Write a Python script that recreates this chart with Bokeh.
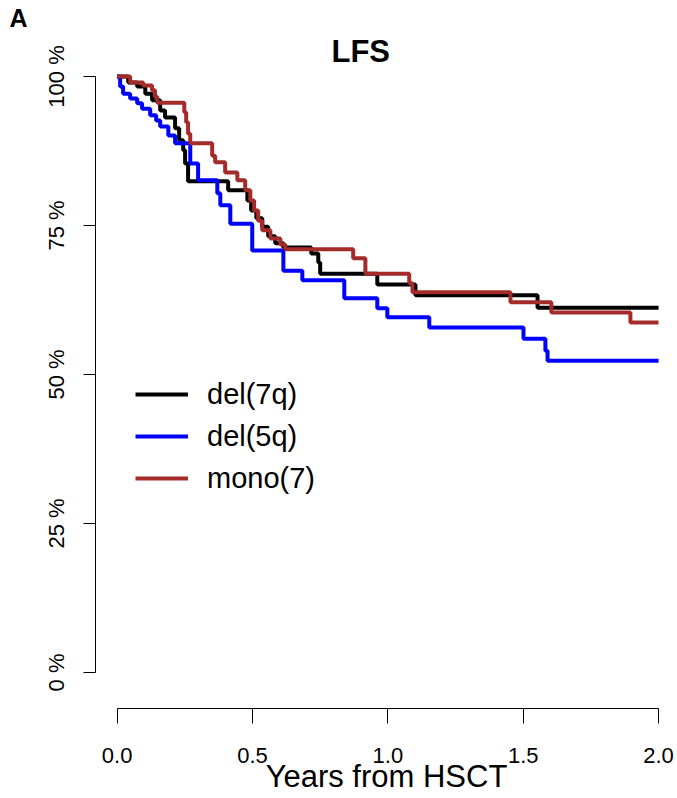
from bokeh.plotting import figure
from bokeh.models import Legend, LegendItem, Title, FixedTicker, Range1d
from bokeh.embed import file_html
from bokeh.resources import INLINE

# ---- data ----
del7q_t = [0.0, 0.041, 0.074, 0.104, 0.129, 0.159, 0.177, 0.214, 0.229, 0.244, 0.251, 0.262,
           0.410, 0.481, 0.495, 0.514, 0.536, 0.558, 0.584, 0.614, 0.717, 0.743, 0.750,
           0.961, 1.102, 1.553, 2.0]
del7q_s = [100.0, 99.0, 98.3, 97.1, 96.0, 94.3, 93.1, 91.3, 89.3, 87.6, 85.4, 82.4,
           80.9, 79.2, 77.5, 76.2, 74.8, 73.2, 72.0, 71.3, 70.3, 68.8, 66.9,
           65.1, 63.3, 61.2, 61.2]

del5q_t = [0.0, 0.011, 0.022, 0.048, 0.074, 0.092, 0.122, 0.144, 0.159, 0.189, 0.214, 0.270,
           0.299, 0.370, 0.381, 0.418, 0.499, 0.614, 0.684, 0.839, 0.961, 0.998, 1.153,
           1.501, 1.582, 1.590, 2.0]
del5q_s = [100.0, 98.3, 97.1, 96.3, 95.5, 94.6, 93.5, 92.6, 91.6, 90.1, 88.8, 85.4,
           82.6, 80.4, 78.4, 75.3, 70.8, 67.4, 65.8, 62.8, 61.1, 59.6, 57.9,
           56.0, 54.0, 52.3, 52.3]

mono7_t = [0.0, 0.048, 0.096, 0.129, 0.140, 0.148, 0.248, 0.255, 0.262, 0.270, 0.351, 0.362,
           0.399, 0.444, 0.473, 0.492, 0.506, 0.521, 0.536, 0.566, 0.603, 0.621, 0.872,
           0.917, 1.079, 1.091, 1.453, 1.604, 1.896, 2.0]
mono7_s = [100.0, 99.0, 98.5, 97.7, 96.6, 95.6, 94.0, 92.3, 90.4, 88.8, 86.7, 85.6,
           83.9, 82.6, 80.9, 79.2, 77.5, 75.8, 74.2, 72.8, 71.8, 71.0, 69.5,
           66.9, 65.3, 63.8, 62.1, 60.4, 58.7, 58.7]

x_ticks = [0.0, 0.5, 1.0, 1.5, 2.0]
x_tick_labels = ["0.0", "0.5", "1.0", "1.5", "2.0"]
y_ticks = [0, 25, 50, 75, 100]
y_tick_labels = ["0 %", "25 %", "50 %", "75 %", "100 %"]

series_names = ["del(7q)", "del(5q)", "mono(7)"]
series_colors = ["#000000", "#0000FF", "#A52A2A"]

FONT = "Liberation Sans"

p = figure(width=677, height=798, output_backend="svg", toolbar_location=None,
           x_range=Range1d(-0.08, 2.07), y_range=Range1d(-6.04, 101.0),
           min_border_left=95, min_border_right=0, min_border_top=70, min_border_bottom=90)
p.outline_line_color = None
p.xgrid.visible = False
p.ygrid.visible = False
p.background_fill_color = "white"
p.border_fill_color = "white"

renderers = []
for t, s, c in zip([del7q_t, del5q_t, mono7_t], [del7q_s, del5q_s, mono7_s], series_colors):
    r = p.step(t, s, mode="after", line_color=c, line_width=4)
    renderers.append(r)

# x axis
xa = p.xaxis[0]
xa.bounds = (0, 2)
xa.ticker = FixedTicker(ticks=x_ticks)
xa.major_label_overrides = {t: l for t, l in zip(x_ticks, x_tick_labels)}
xa.minor_tick_line_color = None
xa.major_tick_in = 0
xa.major_tick_out = 15
xa.major_label_text_font = FONT
xa.major_label_text_font_size = "22px"
xa.major_label_text_color = "black"
xa.major_label_standoff = 24
xa.axis_label = "Years from HSCT"
xa.axis_label_text_font = FONT
xa.axis_label_text_font_size = "31px"
xa.axis_label_text_font_style = "normal"
xa.axis_label_text_color = "black"
xa.axis_label_standoff = -7
xa.axis_line_color = "black"
xa.major_tick_line_color = "black"

# y axis
ya = p.yaxis[0]
ya.bounds = (0, 100)
ya.ticker = FixedTicker(ticks=y_ticks)
ya.major_label_overrides = {t: l for t, l in zip(y_ticks, y_tick_labels)}
ya.minor_tick_line_color = None
ya.major_tick_in = 0
ya.major_tick_out = 12
ya.major_label_orientation = "vertical"
ya.major_label_text_font = FONT
ya.major_label_text_font_size = "22px"
ya.major_label_text_color = "black"
ya.major_label_standoff = 14
ya.axis_line_color = "black"
ya.major_tick_line_color = "black"

legend = Legend(items=[LegendItem(label=n, renderers=[r]) for n, r in zip(series_names, renderers)],
                location=(40, 213), orientation="vertical",
                label_text_font=FONT, label_text_font_size="29px", label_text_color="black",
                glyph_width=53, glyph_height=34, label_height=34, spacing=8,
                label_standoff=19, padding=0, margin=0,
                border_line_color=None, background_fill_alpha=0)
p.add_layout(legend, "center")

p.add_layout(Title(text="LFS", text_font=FONT, text_font_size="31px", text_font_style="bold",
                   text_color="black", align="left", offset=236, standoff=4), "above")
p.add_layout(Title(text="A", text_font=FONT, text_font_size="25px", text_font_style="bold",
                   text_color="black", align="left", offset=-86, standoff=-4), "above")

open("out.html", "w").write(file_html(p, INLINE))
